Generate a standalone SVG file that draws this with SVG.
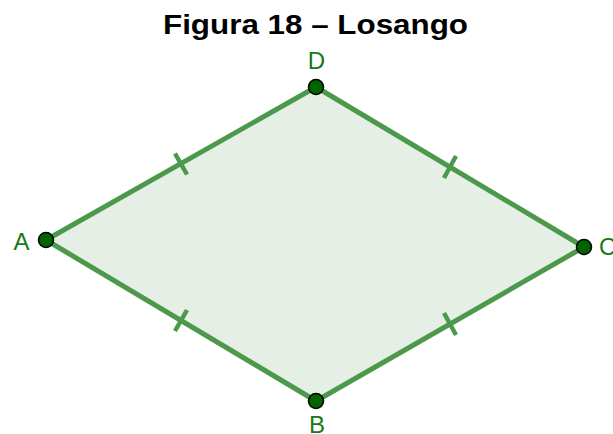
<svg xmlns="http://www.w3.org/2000/svg" width="613" height="434" viewBox="0 0 613 434">
<style>
.edge{stroke:#4c994c;stroke-width:5;stroke-linecap:round;fill:none}
.tick{stroke:#4c994c;stroke-width:4.5;stroke-linecap:butt}
.pt{fill:#006400;stroke:#000;stroke-width:1.5}
.lbl{font-family:"Liberation Sans",Arial,sans-serif;font-size:24px;fill:#157a15}
.title{font-family:"Liberation Sans",Arial,sans-serif;font-size:27px;font-weight:bold;fill:#000}
</style>
<rect width="613" height="434" fill="#fff"/>
<text class="title" x="315.5" y="34" text-anchor="middle" textLength="305" lengthAdjust="spacingAndGlyphs">Figura 18 – Losango</text>
<g id="losango">
<polygon points="46,240 316,87 584,247 316,401" fill="#e6efe6" stroke="none"/>
</g>
<g id="connectors">
<line class="edge" x1="46" y1="240" x2="316" y2="87"/>
<line class="edge" x1="316" y1="87" x2="584" y2="247"/>
<line class="edge" x1="584" y1="247" x2="316" y2="401"/>
<line class="edge" x1="316" y1="401" x2="46" y2="240"/>
<line class="tick" x1="175" y1="153.5" x2="187" y2="174.5"/>
<line class="tick" x1="456" y1="156" x2="444" y2="178"/>
<line class="tick" x1="444" y1="313" x2="456" y2="335"/>
<line class="tick" x1="175" y1="331" x2="187" y2="310"/>
</g>
<g id="A"><circle class="pt" cx="46" cy="240" r="7.5"/><text class="lbl" x="21.5" y="250" text-anchor="middle">A</text></g>
<g id="D"><circle class="pt" cx="316" cy="87" r="7.5"/><text class="lbl" x="316.5" y="69" text-anchor="middle">D</text></g>
<g id="C"><circle class="pt" cx="584" cy="247" r="7.5"/><text class="lbl" x="599" y="255">C</text></g>
<g id="B"><circle class="pt" cx="316" cy="401" r="7.5"/><text class="lbl" x="317" y="433" text-anchor="middle">B</text></g>
</svg>
